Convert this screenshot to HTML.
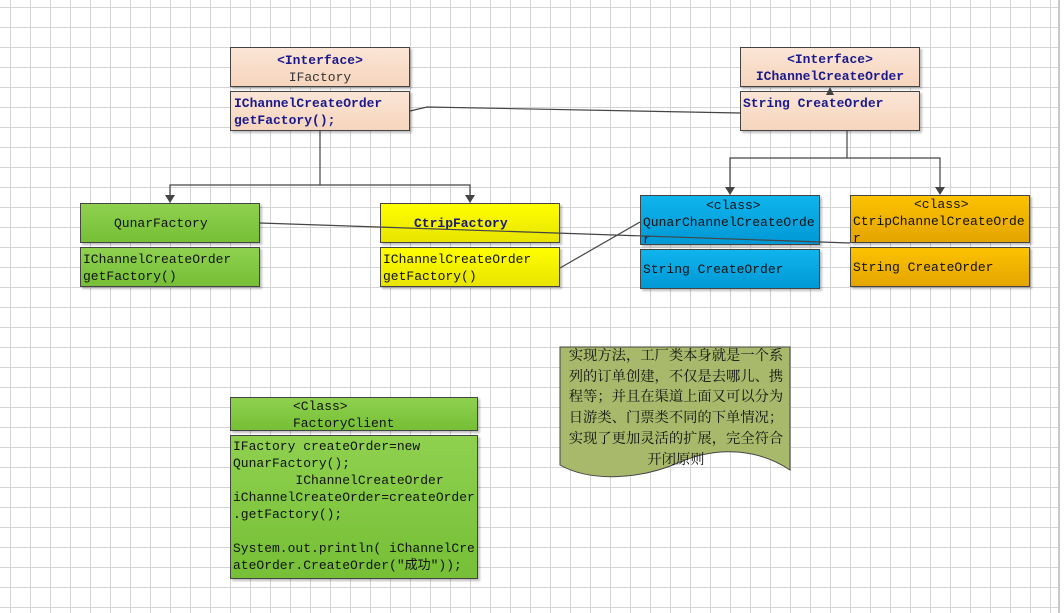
<!DOCTYPE html>
<html><head><meta charset="utf-8"><style>
body{margin:0;width:1064px;height:613px;overflow:hidden;background:#fff;position:relative;font-family:"Liberation Mono","Noto Sans CJK SC",monospace;font-size:13px;}
.grid{position:absolute;left:0;top:0;width:1058px;height:613px;border-right:2px solid #c8c8c8;
background-image:linear-gradient(to right,#d4d4d4 1px,transparent 1px),linear-gradient(to bottom,#d4d4d4 1px,transparent 1px);
background-size:20px 20px;background-position:10px 7px;}
.b{position:absolute;box-sizing:border-box;border:1px solid #444;box-shadow:2px 2px 2px rgba(0,0,0,.25);line-height:17px;color:#111;white-space:pre;overflow:hidden}
.peach{background:linear-gradient(#fbe5d6,#f6d5bd);color:#1a1a8c;font-weight:bold}
.green{background:linear-gradient(#8fd14f,#76bf36)}
.yellow{background:linear-gradient(#ffff00,#e8e400)}
.blue{background:linear-gradient(#10b4ec,#0099d6)}
.orange{background:linear-gradient(#fcc200,#e4a500)}
.c{text-align:center}
svg{position:absolute;left:0;top:0}
</style></head><body>
<div class="grid"></div>
<svg width="1064" height="613">
<path d="M560,347 L790,347 L790,470 C760,450 720,445 680,462 C640,480 590,482 560,465 Z" fill="#a9b96b" stroke="#444" stroke-width="1"/>
</svg>

<div class="b peach c" style="left:230px;top:47px;width:180px;height:40px;padding-top:4px">&lt;Interface&gt;
<span style="font-weight:normal;color:#333">IFactory</span></div>
<div class="b peach" style="left:230px;top:91px;width:180px;height:40px;padding:3px 0 0 3px">IChannelCreateOrder
getFactory();</div>

<div class="b peach c" style="left:740px;top:47px;width:180px;height:40px;padding-top:3px">&lt;Interface&gt;
IChannelCreateOrder</div>
<div class="b peach" style="left:740px;top:91px;width:180px;height:40px;padding:3px 0 0 2px">String CreateOrder</div>

<div class="b green" style="left:80px;top:203px;width:180px;height:40px;padding:11px 0 0 33px">QunarFactory</div>
<div class="b green" style="left:80px;top:247px;width:180px;height:40px;padding:3px 0 0 2px">IChannelCreateOrder
getFactory()</div>

<div class="b yellow" style="left:380px;top:203px;width:180px;height:40px;padding:11px 0 0 33px;font-weight:bold;color:#1a1a6c">CtripFactory</div>
<div class="b yellow" style="left:380px;top:247px;width:180px;height:40px;padding:3px 0 0 2px">IChannelCreateOrder
getFactory()</div>

<div class="b blue" style="left:640px;top:195px;width:180px;height:50px;padding:1px 0 0 2px;line-height:17px"><span style="padding-left:63px">&lt;class&gt;</span>
QunarChannelCreateOrde
r</div>
<div class="b blue" style="left:640px;top:249px;width:180px;height:40px;padding:11px 0 0 2px">String CreateOrder</div>

<div class="b orange" style="left:850px;top:195px;width:180px;height:48px;padding:0 0 0 2px;line-height:17px"><span style="padding-left:61px">&lt;class&gt;</span>
CtripChannelCreateOrde
r</div>
<div class="b orange" style="left:850px;top:247px;width:180px;height:40px;padding:11px 0 0 2px">String CreateOrder</div>

<div class="b green" style="left:230px;top:397px;width:248px;height:34px;padding:0 0 0 62px">&lt;Class&gt;
FactoryClient</div>
<div class="b green" style="left:230px;top:435px;width:248px;height:144px;padding:2px 0 0 2px">IFactory createOrder=new
QunarFactory();
        IChannelCreateOrder
iChannelCreateOrder=createOrder
.getFactory();

System.out.println( iChannelCre
ateOrder.CreateOrder("成功"));</div>

<div style="position:absolute;left:562px;top:345px;width:228px;text-align:center;font-family:'Noto Serif CJK SC',serif;font-size:14.3px;line-height:20.7px;color:#111;white-space:nowrap">实现方法，工厂类本身就是一个系<br>列的订单创建，不仅是去哪儿、携<br>程等；并且在渠道上面又可以分为<br>日游类、门票类不同的下单情况；<br>实现了更加灵活的扩展，完全符合<br>开闭原则</div>

<svg width="1064" height="613">
<g stroke="#444" stroke-width="1.2" fill="none">
<polyline points="320,131 320,185 170,185 170,197"/>
<polyline points="320,185 470,185 470,197"/>
<polyline points="847,131 847,158 730,158 730,189"/>
<polyline points="847,158 940,158 940,189"/>
<polyline points="410,111 427,107 740,113"/>
<polyline points="260,223 850,243"/>
<polyline points="560,268 640,222"/>
</g>
<g fill="#444">
<polygon points="165,195 175,195 170,203"/>
<polygon points="465,195 475,195 470,203"/>
<polygon points="725,187 735,187 730,195"/>
<polygon points="935,187 945,187 940,195"/>
<polygon points="826,95 834,95 830,87"/>
</g>
</svg>
</body></html>
